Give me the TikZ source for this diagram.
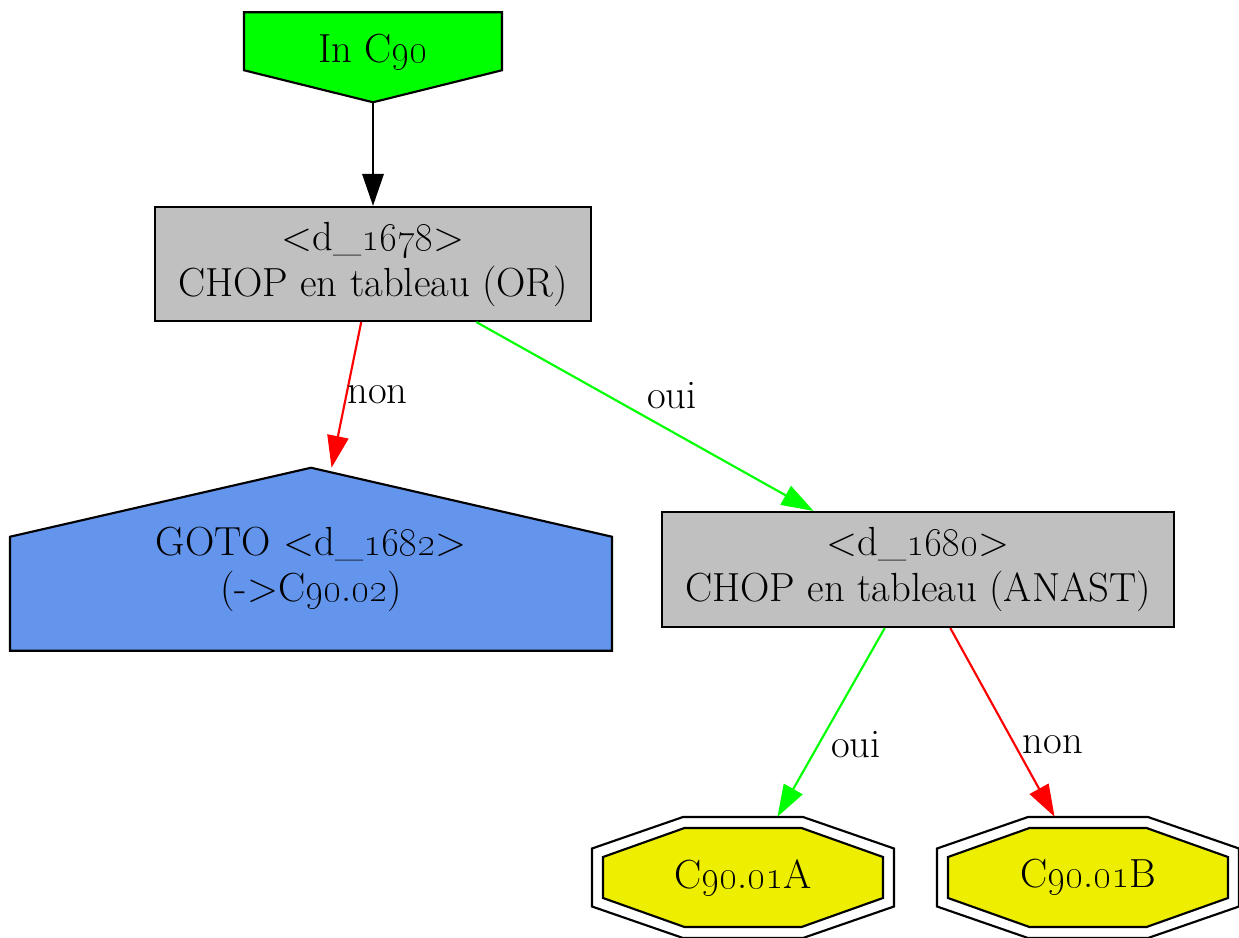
\documentclass[tikz,border=0pt]{standalone}
\usepackage{xcolor}
\usepackage{tikz}
\usetikzlibrary{arrows.meta,positioning,calc,backgrounds}
\definecolor{ingreen}{HTML}{00FF00}
\definecolor{boxgray}{HTML}{C0C0C0}
\definecolor{gotoblue}{HTML}{6495ED}
\definecolor{leafyellow}{HTML}{EEEE00}
\definecolor{ouigreen}{HTML}{00FF00}
\definecolor{nonred}{HTML}{FF0000}
\newcommand{\osn}[1]{\oldstylenums{#1}}
\tikzset{
	arrow/.style={-{Triangle[length=24pt,width=16pt]}, line width=1.6pt},
	chopbox/.style={draw, line width=1.6pt, fill=boxgray, align=center, inner sep=0pt},
	shapebox/.style={align=center, inner sep=0pt},
	edgelabel/.style={inner sep=0pt, text=black},
	outline/.style={draw=black, line width=1.6pt}
}

\begin{document}
\begin{tikzpicture}[x=0.75pt, y=-0.75pt,
		every node/.append style={font=\fontsize{30.5}{34.5}\selectfont}]
	\useasboundingbox (0,0) rectangle (1239,938);
	
	%% ── Entry (top) ────────────────────────────────────────────────
	\node[shapebox, minimum width=193.5pt, minimum height=75pt] (in) at (373,52)
	{In C\osn{90}};
	
	%% ── Decision boxes ─────────────────────────────────────────────
	\node[chopbox, minimum width=327pt, minimum height=85.5pt] (d1678) at (373,264)
	{<d\_\osn{1678}>\\CHOP en tableau (OR)};
	\node[chopbox, minimum width=384pt, minimum height=86.25pt] (d1680) at (918,569.5)
	{<d\_\osn{1680}>\\CHOP en tableau (ANAST)};
	
	%% ── Goto (left) ────────────────────────────────────────────────
	\node[shapebox, minimum width=451.5pt, minimum height=151.5pt] (goto) at (311,569)
	{GOTO <d\_\osn{1682}>\\(->C\osn{90}.\osn{02})};
	
	%% ── Leaves (bottom) ────────────────────────────────────────────
	\node[shapebox, minimum width=226.5pt, minimum height=90.75pt] (octA) at (743,877.5)
	{C\osn{90}.\osn{01}A};
	\node[shapebox, minimum width=226.5pt, minimum height=90.75pt] (octB) at (1088,877.5)
	{C\osn{90}.\osn{01}B};
	
	%% ── Shapes behind the texts ────────────────────────────────────
	\begin{scope}[on background layer]
		\filldraw[outline, fill=ingreen] (in.south) -- ++(129,-32) -- ++(0,-58)
		-- ++(-258,0) -- ++(0,58) -- cycle;
		\filldraw[outline, fill=gotoblue] (goto.north) -- ++(301,69) -- ++(0,114)
		-- ++(-602,0) -- ++(0,-114) -- cycle;
		\foreach \nd in {octA,octB}{
			\draw[outline] ($(\nd)+(-60,-60.5)$) -- ++(120,0) -- ++(91,31.5) -- ++(0,58)
			-- ++(-91,31.5) -- ++(-120,0) -- ++(-91,-31.5) -- ++(0,-58) -- cycle;
			\filldraw[outline, fill=leafyellow] ($(\nd)+(-58.5,-49.5)$) -- ++(117,0)
			-- ++(81.5,29) -- ++(0,41) -- ++(-81.5,29) -- ++(-117,0)
			-- ++(-81.5,-29) -- ++(0,-41) -- cycle;
		}
	\end{scope}
	
	%% ── Arrows ─────────────────────────────────────────────────────
	\draw[arrow, black] (in) -- (d1678);
	\draw[arrow, nonred] (d1678) --
	node[edgelabel, pos=.5, anchor=west]{non} (goto);
	\draw[arrow, ouigreen] (d1678) --
	node[edgelabel, pos=.58, yshift=27pt]{oui} (d1680);
	\draw[arrow, ouigreen] (d1680) --
	node[edgelabel, pos=.62, anchor=west, xshift=9pt]{oui} (octA);
	\draw[arrow, nonred] (d1680) --
	node[edgelabel, pos=.62, anchor=west, xshift=5pt]{non} (octB);
	
\end{tikzpicture}
\end{document}
